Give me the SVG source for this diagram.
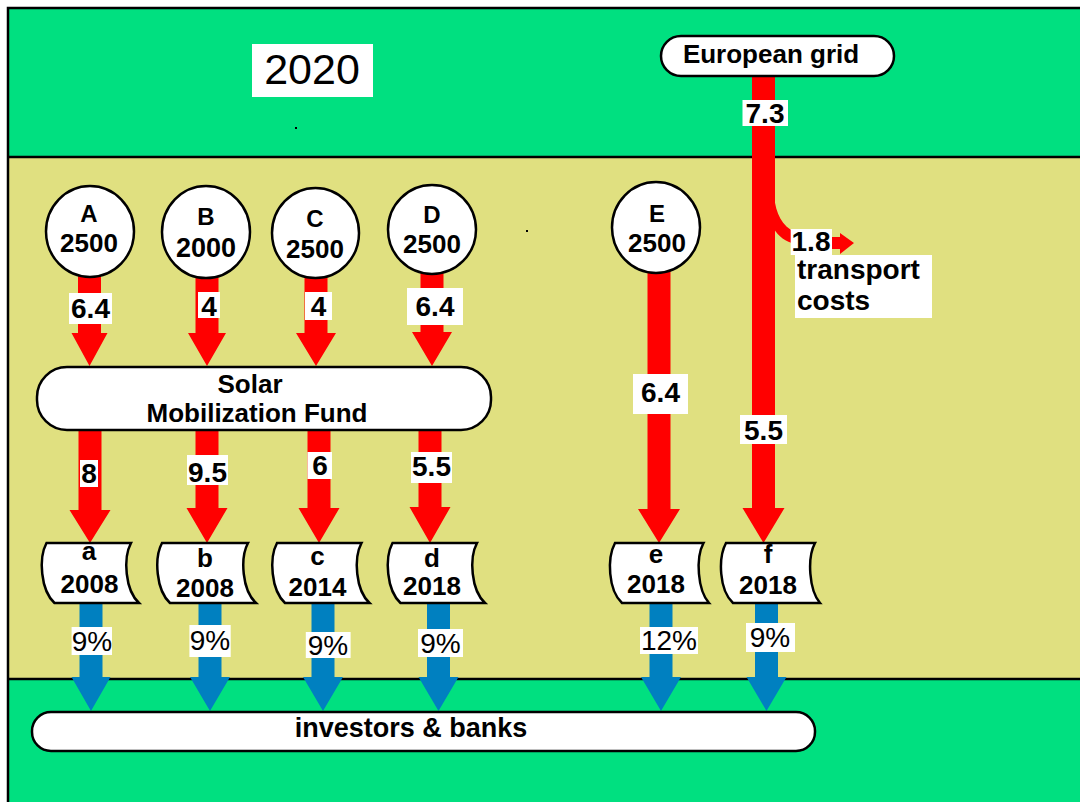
<svg xmlns="http://www.w3.org/2000/svg" width="1080" height="802" viewBox="0 0 1080 802">
  <style>
    text { font-family: "Liberation Sans", Arial, sans-serif; fill: #000; text-anchor: middle; }
    .b { font-weight: bold; }
    .node { fill: #fff; stroke: #000; stroke-width: 2.5; }
    .tag { fill: #fff; }
    .red { fill: #ff0000; }
    .blue { fill: #0080c0; }
    .line { stroke: #000; stroke-width: 2.5; fill: none; }
    .f26 { font-size: 26px; }
    .f28 { font-size: 28px; }
    .f24 { font-size: 24px; }
  </style>

  <!-- background bands -->
  <g id="background">
    <rect x="0" y="0" width="1080" height="802" fill="#fff"/>
    <rect x="8" y="8" width="1080" height="149" fill="#00e080"/>
    <rect x="8" y="157" width="1080" height="522" fill="#e0e080"/>
    <rect x="8" y="679" width="1080" height="130" fill="#00e080"/>
    <path class="line" d="M8 810 V8 H1090"/>
    <path class="line" d="M8 157 H1080 M8 679 H1080"/>
    <rect x="295" y="127" width="2" height="2" fill="#000"/>
    <rect x="526" y="230" width="2" height="2" fill="#000"/>
  </g>

  <!-- year label -->
  <g id="year">
    <rect class="tag" x="252" y="44" width="121" height="53"/>
    <text x="312" y="84" style="font-size:43px">2020</text>
  </g>

  <!-- flows -->
  <g id="connectors">
    <!-- producers to fund -->
    <path class="red" d="M78 270 H101 V333 H107.5 L89.5 366 L71.5 333 H78 Z"/>
    <path class="red" d="M195.5 270 H218.5 V333 H226 L207 366 L188 333 H195.5 Z"/>
    <path class="red" d="M304.5 270 H327.5 V333 H336 L316 366 L296 333 H304.5 Z"/>
    <path class="red" d="M420.5 270 H443.5 V332 H452 L432 366 L412 332 H420.5 Z"/>
    <!-- fund to projects -->
    <path class="red" d="M78.5 425 H101.5 V510 H110.5 L90 543 L69.5 510 H78.5 Z"/>
    <path class="red" d="M195.5 425 H218.5 V508 H227.5 L207 543 L186.5 508 H195.5 Z"/>
    <path class="red" d="M307.5 425 H330.5 V508 H339.5 L319 543 L298.5 508 H307.5 Z"/>
    <path class="red" d="M418.5 425 H441.5 V507 H450.5 L430 543 L409.5 507 H418.5 Z"/>
    <path class="red" d="M647.5 265 H670.5 V509 H680 L659 543 L638 509 H647.5 Z"/>
    <path class="red" d="M752 70 H775 V508 H784.5 L763.5 543 L742.5 508 H752 Z"/>
    <!-- transport cost branch -->
    <path class="red" d="M774 196 C776 214 782 226 795 232 L795 244 C786 242 778 236 774 229 Z"/>
    <path class="red" d="M830 237 H840 V233 L854 243 L840 254 V249 H830 Z"/>
    <!-- projects to investors -->
    <path class="blue" d="M79.5 600 H102.5 V677 H110.5 L91 711 L71.5 677 H79.5 Z"/>
    <path class="blue" d="M198.5 600 H221.5 V677 H230 L210 711 L190 677 H198.5 Z"/>
    <path class="blue" d="M311.5 600 H334.5 V677 H343 L323 711 L303 677 H311.5 Z"/>
    <path class="blue" d="M427 600 H450 V677 H458.5 L438.5 711 L418.5 677 H427 Z"/>
    <path class="blue" d="M649.5 600 H672.5 V677 H681 L661 711 L641 677 H649.5 Z"/>
    <path class="blue" d="M755 600 H778 V677 H786.5 L766.5 711 L746.5 677 H755 Z"/>

    <!-- flow labels -->
    <g class="b f28">
      <rect class="tag" x="69" y="293" width="43" height="31"/><text x="90.5" y="318">6.4</text>
      <rect class="tag" x="198" y="292" width="22" height="26"/><text x="209" y="316">4</text>
      <rect class="tag" x="305" y="292" width="27" height="28"/><text x="318.5" y="316">4</text>
      <rect class="tag" x="407" y="288" width="56" height="37"/><text x="435" y="316">6.4</text>

      <rect class="tag" x="80" y="460" width="18" height="27"/><text x="89" y="483">8</text>
      <rect class="tag" x="187" y="455" width="41" height="30"/><text x="207.5" y="482">9.5</text>
      <rect class="tag" x="307.5" y="452" width="24.5" height="27"/><text x="320" y="475">6</text>
      <rect class="tag" x="411" y="452" width="41" height="31"/><text x="431.5" y="476">5.5</text>

      <rect class="tag" x="633" y="374" width="55" height="40"/><text x="660.5" y="402">6.4</text>
      <rect class="tag" x="742.5" y="100" width="45.5" height="26"/><text x="765" y="123">7.3</text>
      <rect class="tag" x="740" y="415" width="47" height="29"/><text x="763.5" y="440">5.5</text>

      <rect class="tag" x="790.7" y="229" width="41.3" height="26"/><text x="811" y="251">1.8</text>
      <rect class="tag" x="795" y="255" width="137" height="63"/>
      <text x="797" y="279" style="text-anchor:start">transport</text>
      <text x="797" y="310" style="text-anchor:start">costs</text>
    </g>
    <g class="f28">
      <rect class="tag" x="71.6" y="627" width="40.4" height="28"/><text x="92" y="651">9%</text>
      <rect class="tag" x="189.4" y="625" width="41.3" height="32"/><text x="210" y="650">9%</text>
      <rect class="tag" x="305.8" y="632" width="44.8" height="26"/><text x="328" y="655">9%</text>
      <rect class="tag" x="418" y="629" width="45" height="28"/><text x="440.5" y="653">9%</text>
      <rect class="tag" x="640" y="627" width="58" height="27"/><text x="669" y="650">12%</text>
      <rect class="tag" x="746" y="623" width="49" height="29"/><text x="770" y="647">9%</text>
    </g>
  </g>

  <!-- sources -->
  <g id="grid">
    <rect class="node" x="661" y="36" width="233" height="40" rx="20"/>
    <text class="b f26" x="771" y="63">European grid</text>
  </g>
  <g id="source-A">
    <ellipse class="node" cx="90" cy="231.5" rx="44" ry="45.5"/>
    <text class="b f24" x="89" y="222">A</text>
    <text class="b f26" x="89" y="252">2500</text>
  </g>
  <g id="source-B">
    <ellipse class="node" cx="206" cy="232" rx="44" ry="46"/>
    <text class="b f24" x="206" y="225">B</text>
    <text class="b" x="206" y="257" style="font-size:27px">2000</text>
  </g>
  <g id="source-C">
    <ellipse class="node" cx="315.5" cy="233" rx="43.5" ry="45"/>
    <text class="b f24" x="315" y="227">C</text>
    <text class="b f26" x="315" y="258">2500</text>
  </g>
  <g id="source-D">
    <ellipse class="node" cx="432" cy="229.5" rx="44" ry="44.5"/>
    <text class="b f24" x="432" y="223">D</text>
    <text class="b f26" x="432" y="253">2500</text>
  </g>
  <g id="source-E">
    <ellipse class="node" cx="656" cy="227.5" rx="44" ry="45.5"/>
    <text class="b f24" x="657" y="222">E</text>
    <text class="b f26" x="657" y="252">2500</text>
  </g>

  <!-- fund -->
  <g id="fund">
    <rect class="node" x="37" y="367" width="454" height="63" rx="30"/>
    <text class="b f26" x="250" y="393">Solar</text>
    <text class="b f26" x="257" y="422">Mobilization Fund</text>
  </g>

  <!-- projects -->
  <g id="project-a">
    <path class="node" d="M46.5 543 H131 C123 558 125 590 139 603 H54.5 C40.5 590 38.5 558 46.5 543 Z"/>
    <text class="b f26" x="89" y="560">a</text>
    <text class="b f26" x="89.5" y="593">2008</text>
  </g>
  <g id="project-b">
    <path class="node" d="M162 543 H248 C240 558 242 590 256 603 H170 C156 590 154 558 162 543 Z"/>
    <text class="b f26" x="205" y="567">b</text>
    <text class="b f26" x="205" y="597">2008</text>
  </g>
  <g id="project-c">
    <path class="node" d="M277 543 H361.5 C353.5 558 355.5 590 369.5 603 H285 C271 590 269 558 277 543 Z"/>
    <text class="b f26" x="317.5" y="565">c</text>
    <text class="b f26" x="317.5" y="596">2014</text>
  </g>
  <g id="project-d">
    <path class="node" d="M392.5 543 H477 C469 558 471 590 485 603 H400.5 C386.5 590 384.5 558 392.5 543 Z"/>
    <text class="b f26" x="432" y="567">d</text>
    <text class="b f26" x="432" y="595">2018</text>
  </g>
  <g id="project-e">
    <path class="node" d="M615 543 H703.5 C695.5 558 697.5 590 709 603 H622 C608 590 607 558 615 543 Z"/>
    <text class="b f26" x="656" y="563">e</text>
    <text class="b f26" x="656" y="593">2018</text>
  </g>
  <g id="project-f">
    <path class="node" d="M726 543 H815 C807 558 809 590 820 603 H733 C719 590 718 558 726 543 Z"/>
    <text class="b f26" x="768" y="563">f</text>
    <text class="b f26" x="768" y="594">2018</text>
  </g>

  <!-- lenders -->
  <g id="investors">
    <rect class="node" x="32" y="712" width="783" height="39" rx="19"/>
    <text class="b" x="411" y="737" style="font-size:27px">investors &amp; banks</text>
  </g>
</svg>
